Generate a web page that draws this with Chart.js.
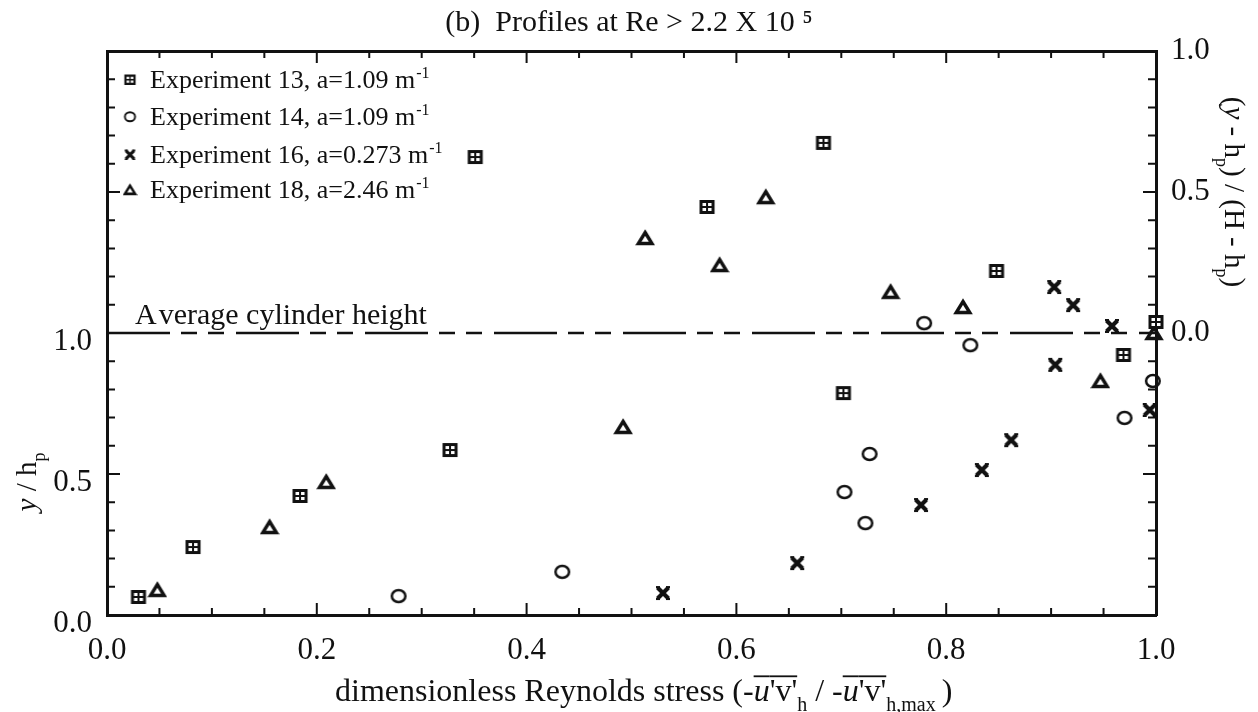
<!DOCTYPE html>
<html>
<head>
<meta charset="utf-8">
<script src="https://cdn.jsdelivr.net/npm/chart.js@4.4.1/dist/chart.umd.min.js"></script>
<style>
  html, body { margin: 0; padding: 0; background: #fff; }
</style>
</head>
<body>
<canvas id="chart" width="1258" height="712"></canvas>
<script>
// values: x = dimensionless Reynolds stress, y = y / hp
const exp13X = [0.030, 0.082, 0.184, 0.327, 0.351, 0.572, 0.683, 0.702, 0.848, 0.969, 1.000];
const exp13Y = [0.064, 0.241, 0.422, 0.585, 1.624, 1.447, 1.674, 0.787, 1.220, 0.922, 1.039];

const exp14X = [0.278, 0.434, 0.703, 0.723, 0.727, 0.779, 0.823, 0.970, 0.997];
const exp14Y = [0.067, 0.153, 0.436, 0.326, 0.571, 1.035, 0.957, 0.699, 0.830];

const exp16X = [0.530, 0.658, 0.776, 0.834, 0.862, 0.903, 0.904, 0.921, 0.958, 0.994];
const exp16Y = [0.078, 0.184, 0.390, 0.514, 0.620, 1.163, 0.887, 1.099, 1.025, 0.727];

const exp18X = [0.048, 0.155, 0.209, 0.492, 0.513, 0.584, 0.628, 0.747, 0.816, 0.947, 0.998];
const exp18Y = [0.089, 0.312, 0.472, 0.667, 1.337, 1.241, 1.482, 1.146, 1.092, 0.830, 1.000];

const seriesLabels = ['Experiment 13, a=1.09 m', 'Experiment 14, a=1.09 m', 'Experiment 16, a=0.273 m', 'Experiment 18, a=2.46 m'];
const unitSup = '-1';

const xTickLabels = ['0.0', '0.2', '0.4', '0.6', '0.8', '1.0'];
const yTickLabels = ['0.0', '0.5', '1.0'];   // left, y / hp
const y2TickLabels = ['0.0', '0.5', '1.0'];  // right, (y - hp) / (H - hp)

const avgCylinderHeight = 1.0;

const SERIF = "'Liberation Serif', 'Times New Roman', serif";
const INK = '#111';

function toPoints(xs, ys) {
  return xs.map((x, i) => ({ x, y: ys[i] }));
}

function isMultiple(v, step) {
  return Math.abs(v / step - Math.round(v / step)) < 1e-6;
}

// marker glyphs drawn once on little canvases, used as pointStyle
function makeMarker(kind, k) {
  const c = document.createElement('canvas');
  c.width = Math.round(20 * k);
  c.height = Math.round(18 * k);
  const g = c.getContext('2d');
  g.scale(k, k);
  g.strokeStyle = INK;
  g.fillStyle = INK;
  if (kind === 'boxPlus') {
    g.fillRect(2.5, 2, 15, 14);
    g.fillStyle = '#fff';
    g.fillRect(5.5, 5, 3.5, 3);
    g.fillRect(11, 5, 3.5, 3);
    g.fillRect(5.5, 10, 3.5, 3);
    g.fillRect(11, 10, 3.5, 3);
  } else if (kind === 'circle') {
    g.lineWidth = 2.5;
    g.beginPath();
    g.ellipse(10, 9, 6.8, 6.0, 0, 0, Math.PI * 2);
    g.stroke();
  } else if (kind === 'cross') {
    g.lineWidth = 4.2;
    g.beginPath();
    g.moveTo(4.5, 3.5); g.lineTo(15.5, 14.5);
    g.moveTo(15.5, 3.5); g.lineTo(4.5, 14.5);
    g.stroke();
    g.lineWidth = 1.8;
    g.beginPath();
    g.moveTo(3, 3); g.lineTo(7, 3);
    g.moveTo(13, 3); g.lineTo(17, 3);
    g.moveTo(3, 15); g.lineTo(7, 15);
    g.moveTo(13, 15); g.lineTo(17, 15);
    g.stroke();
  } else if (kind === 'triangle') {
    g.lineWidth = 3.4;
    g.lineJoin = 'miter';
    g.beginPath();
    g.moveTo(10, 3.5); g.lineTo(16.8, 14.5); g.lineTo(3.2, 14.5);
    g.closePath();
    g.stroke();
  }
  return c;
}

const markerKinds = ['boxPlus', 'circle', 'cross', 'triangle'];
const markers = markerKinds.map(k => makeMarker(k, 1));
const legendMarkers = markerKinds.map(k => makeMarker(k, 0.75));

// text made of pieces: italic, subscript, superscript, overline, extra gap
function fontOf(size, italic) {
  return (italic ? 'italic ' : '') + size + 'px ' + SERIF;
}

function pieceSize(p, size) {
  return p.sub || p.sup ? Math.round(size * 0.62) : size;
}

function runsWidth(ctx, runs, size) {
  let w = 0;
  runs.forEach(p => {
    ctx.font = fontOf(pieceSize(p, size), p.it);
    w += ctx.measureText(p.t).width + (p.gap || 0);
  });
  return w;
}

function drawRuns(ctx, runs, x, y, size) {
  runs.forEach(p => {
    ctx.font = fontOf(pieceSize(p, size), p.it);
    const dy = p.sub ? size * 0.32 : p.sup ? -size * 0.38 : 0;
    ctx.fillText(p.t, x, y + dy);
    const w = ctx.measureText(p.t).width;
    if (p.over) ctx.fillRect(x, y - size * 0.8, w, 1.8);
    x += w + (p.gap || 0);
  });
  return x;
}

const leftTitle = [{ t: 'y', it: true }, { t: ' / h' }, { t: 'p', sub: true }];
const rightTitle = [{ t: '(' }, { t: 'y', it: true }, { t: ' - h' }, { t: 'p', sub: true }, { t: ') / (H - h' }, { t: 'p', sub: true }, { t: ')' }];
const bottomTitle = [
  { t: 'dimensionless Reynolds stress (-' },
  { t: 'u', it: true, over: true }, { t: "'v'", over: true }, { t: 'h', sub: true },
  { t: ' / -' },
  { t: 'u', it: true, over: true }, { t: "'v'", over: true }, { t: 'h,max', sub: true, gap: 6 },
  { t: ')' }
];

const decor = {
  id: 'decor',
  afterDraw(chart) {
    const ctx = chart.ctx;
    const area = chart.chartArea;
    const sx = chart.scales.x, sx2 = chart.scales.x2, sy = chart.scales.y, sy2 = chart.scales.y2;
    ctx.save();
    ctx.strokeStyle = INK;
    ctx.fillStyle = INK;

    // inward tick marks on all four sides
    ctx.lineWidth = 2;
    ctx.beginPath();
    sx.ticks.forEach(t => {
      const len = isMultiple(t.value, 0.2) ? 12 : 7;
      const px = sx.getPixelForValue(t.value);
      ctx.moveTo(px, area.bottom); ctx.lineTo(px, area.bottom - len);
      const px2 = sx2.getPixelForValue(t.value);
      ctx.moveTo(px2, area.top); ctx.lineTo(px2, area.top + len);
    });
    sy.ticks.forEach(t => {
      const len = isMultiple(t.value, 0.5) ? 13 : 8;
      const py = sy.getPixelForValue(t.value);
      ctx.moveTo(area.left, py); ctx.lineTo(area.left + len, py);
    });
    sy2.ticks.forEach(t => {
      const len = isMultiple(t.value, 0.5) ? 13 : 8;
      const py = sy2.getPixelForValue(t.value);
      ctx.moveTo(area.right, py); ctx.lineTo(area.right - len, py);
    });
    ctx.stroke();

    // legend in the upper left corner
    ctx.textBaseline = 'alphabetic';
    ctx.textAlign = 'left';
    const rowY = [80, 117, 155, 190];
    seriesLabels.forEach((label, i) => {
      const m = legendMarkers[i];
      ctx.drawImage(m, area.left + 23 - m.width / 2, rowY[i] - m.height / 2);
      drawRuns(ctx, [{ t: label, gap: 1 }, { t: unitSup, sup: true }], area.left + 43, rowY[i] + 8, 26);
    });

    // label of the dashed line
    const yAvg = sy.getPixelForValue(avgCylinderHeight);
    drawRuns(ctx, [{ t: 'A', gap: 2 }, { t: 'verage cylinder height' }], area.left + 28, yAvg - 9, 30);

    // axis titles
    const lw = runsWidth(ctx, leftTitle, 29);
    ctx.save();
    ctx.translate(36, area.bottom - 133);
    ctx.rotate(-Math.PI / 2);
    drawRuns(ctx, leftTitle, -lw / 2, 0, 29);
    ctx.restore();

    const rw = runsWidth(ctx, rightTitle, 29);
    ctx.save();
    ctx.translate(area.right + 69, sy2.getPixelForValue(0.5));
    ctx.rotate(Math.PI / 2);
    drawRuns(ctx, rightTitle, -rw / 2, 0, 29);
    ctx.restore();

    drawRuns(ctx, bottomTitle, 335, 701, 32);
    ctx.restore();
  }
};

const tickFont = { family: SERIF, size: 31 };

new Chart(document.getElementById('chart'), {
  type: 'scatter',
  data: {
    datasets: [
      { label: seriesLabels[0], data: toPoints(exp13X, exp13Y), pointStyle: markers[0] },
      { label: seriesLabels[1], data: toPoints(exp14X, exp14Y), pointStyle: markers[1] },
      { label: seriesLabels[2], data: toPoints(exp16X, exp16Y), pointStyle: markers[2] },
      { label: seriesLabels[3], data: toPoints(exp18X, exp18Y), pointStyle: markers[3] },
      {
        type: 'line',
        label: 'Average cylinder height',
        data: [{ x: 0, y: avgCylinderHeight }, { x: 1, y: avgCylinderHeight }],
        borderColor: INK,
        borderWidth: 2.6,
        borderDash: [63, 11, 16, 11, 16, 12],
        pointRadius: 0,
        order: 10
      }
    ].map(ds => Object.assign({ clip: false, pointRadius: 7, showLine: ds.type === 'line' }, ds))
  },
  options: {
    responsive: false,
    animation: false,
    devicePixelRatio: 1,
    layout: { padding: 0 },
    plugins: {
      legend: { display: false },
      tooltip: { enabled: false },
      title: {
        display: true,
        text: '(b)  Profiles at Re > 2.2 X 10 \u2075',
        color: INK,
        font: { family: SERIF, size: 30, weight: 'normal' },
        padding: { top: 5, bottom: 10 }
      }
    },
    scales: {
      x: {
        type: 'linear', position: 'bottom', min: 0, max: 1,
        grid: { display: false, drawTicks: false },
        border: { display: true, color: INK, width: 3 },
        ticks: {
          stepSize: 0.05, autoSkip: false, maxRotation: 0, padding: 17, color: INK, font: tickFont,
          callback: v => (isMultiple(v, 0.2) && xTickLabels.includes(v.toFixed(1)) ? v.toFixed(1) : '')
        },
        afterFit: s => { s.height = 97; }
      },
      x2: {
        type: 'linear', position: 'top', min: 0, max: 1,
        grid: { display: false, drawTicks: false },
        border: { display: true, color: INK, width: 3 },
        ticks: { display: false, stepSize: 0.05 },
        afterFit: s => { s.height = 0; }
      },
      y: {
        type: 'linear', position: 'left', min: 0, max: 2,
        grid: { display: false, drawTicks: false },
        border: { display: true, color: INK, width: 3 },
        ticks: {
          stepSize: 0.1, autoSkip: false, padding: 15, labelOffset: 9, color: INK, font: tickFont,
          callback: v => (isMultiple(v, 0.5) && yTickLabels.includes(v.toFixed(1)) ? v.toFixed(1) : '')
        },
        afterFit: s => { s.width = 107; }
      },
      y2: {
        type: 'linear', position: 'right', min: -1, max: 1,
        grid: { display: false, drawTicks: false },
        border: { display: true, color: INK, width: 3 },
        ticks: {
          stepSize: 0.1, autoSkip: false, padding: 15, color: INK, font: tickFont,
          callback: v => (isMultiple(v, 0.5) && y2TickLabels.includes(v.toFixed(1)) ? v.toFixed(1) : '')
        },
        afterFit: s => { s.width = 102; }
      }
    }
  },
  plugins: [decor]
});
</script>
</body>
</html>
